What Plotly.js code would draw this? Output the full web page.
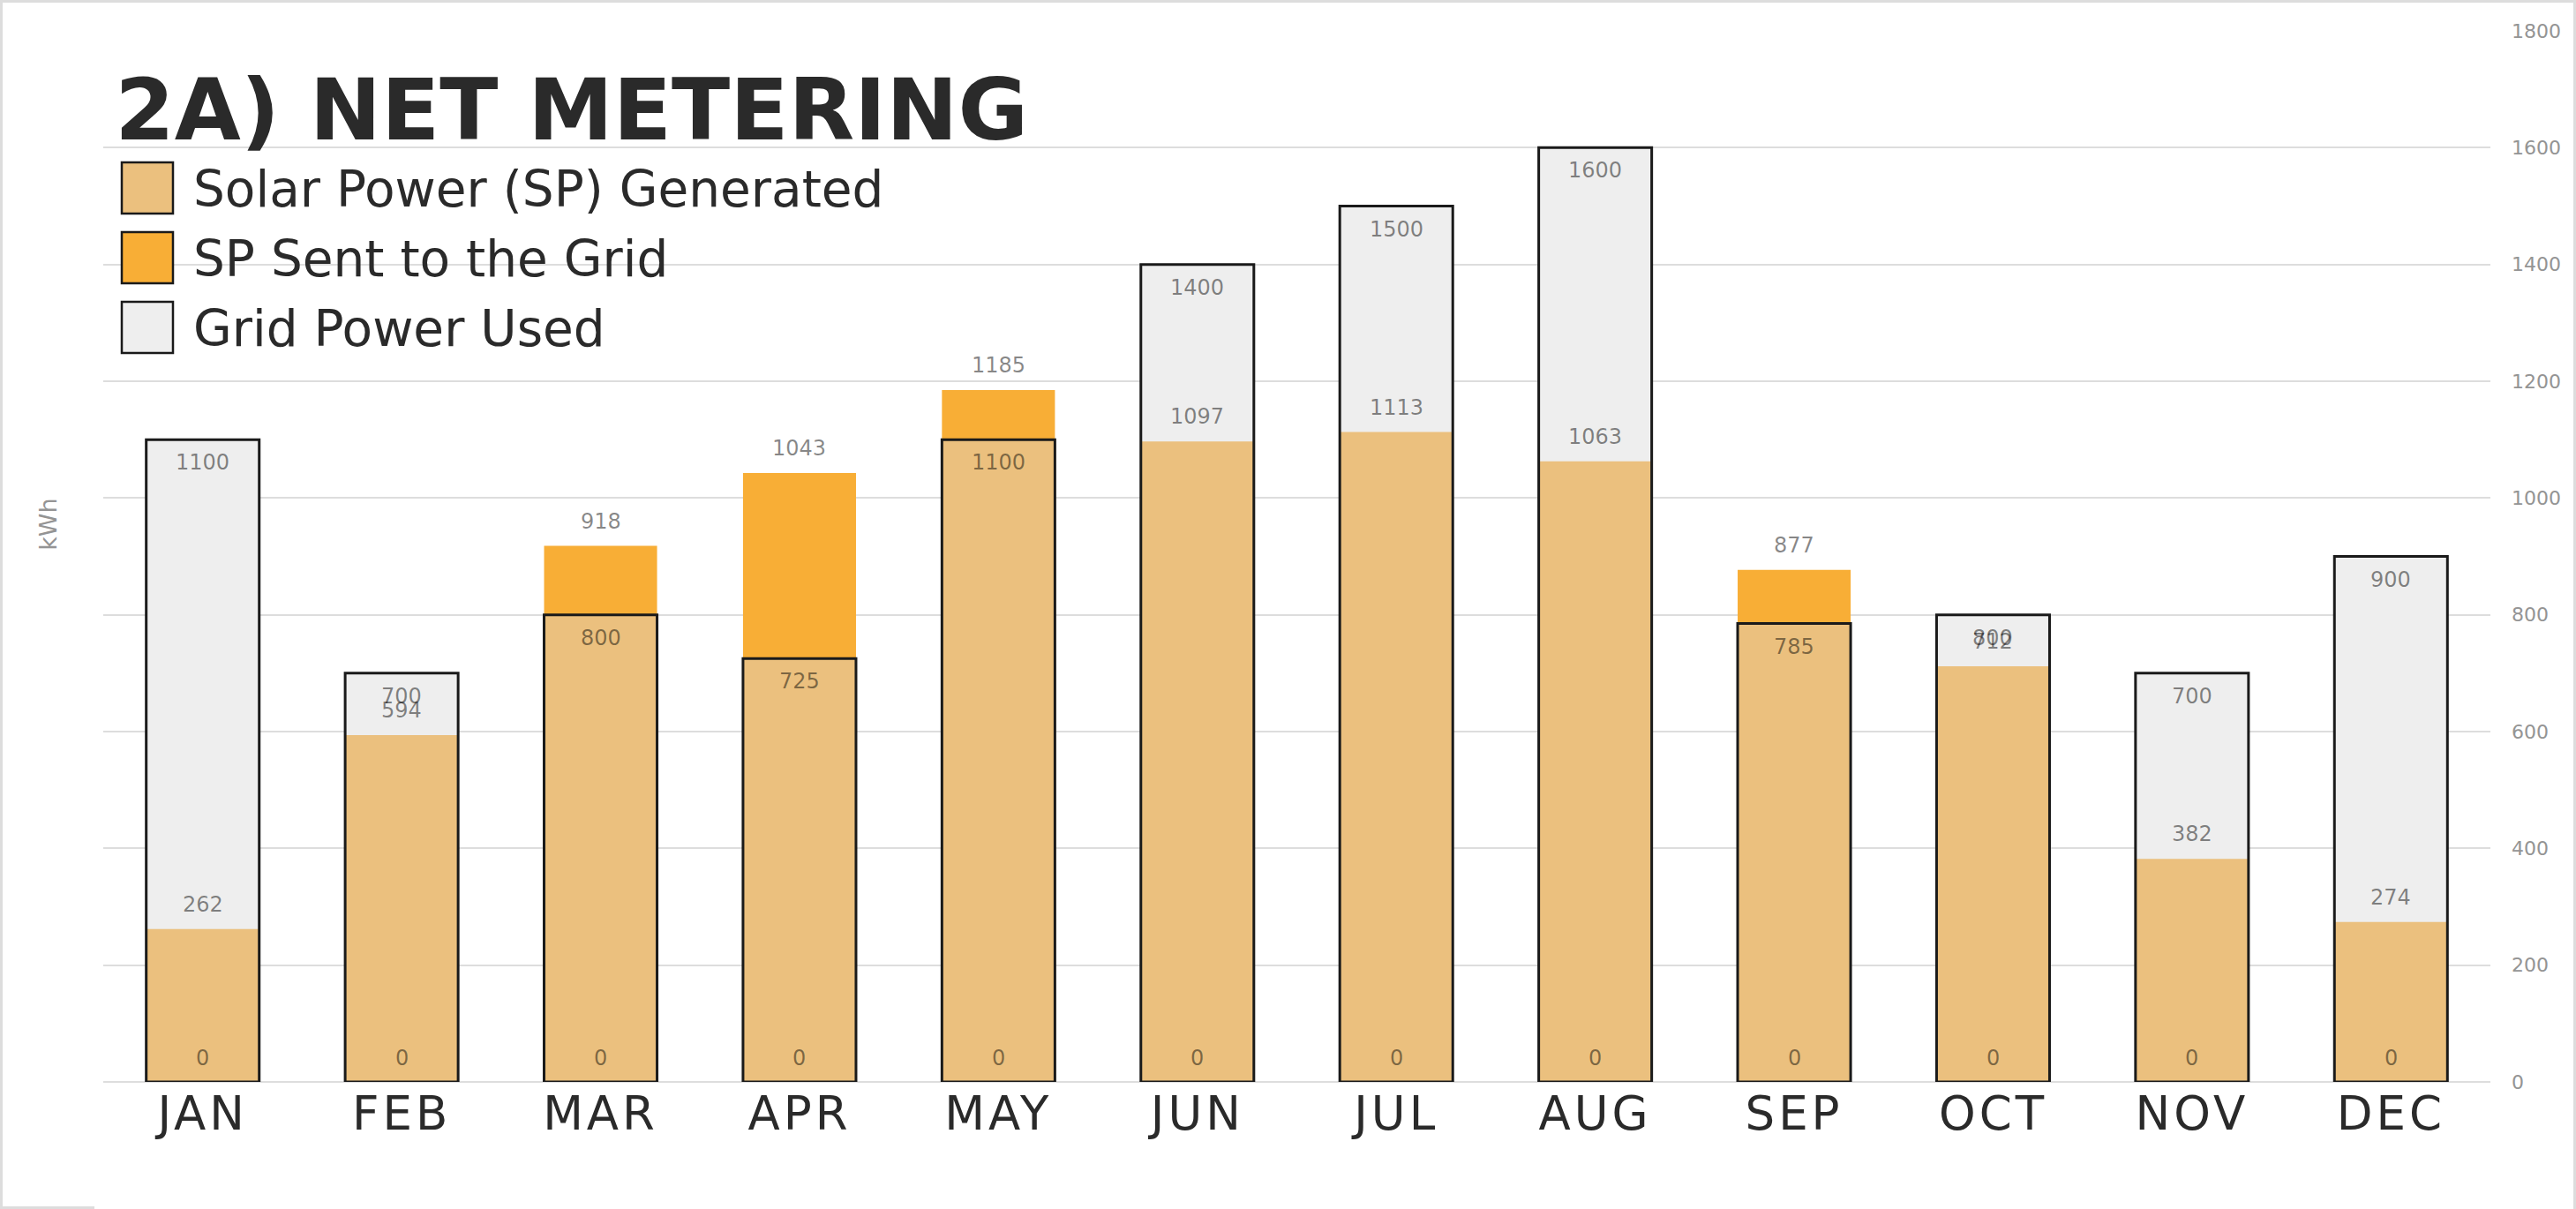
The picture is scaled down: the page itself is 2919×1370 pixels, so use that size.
<!DOCTYPE html>
<html>
<head>
<meta charset="utf-8">
<script src="https://cdn.plot.ly/plotly-3.0.1.min.js"></script>
<style>
  html, body { margin: 0; padding: 0; background: #ffffff; }
  #wrap { position: relative; width: 2919px; height: 1370px; }
  #chart { width: 2919px; height: 1370px; }
  /* month names are tracked out a little in the original */
  #chart .xtick text { letter-spacing: 4px; }
  /* faint frame round the picture, open along most of the bottom */
  #frame {
    position: absolute; left: 0; top: 0; width: 2913px; height: 1367px;
    border: 3px solid #dddddd; border-bottom: none; pointer-events: none;
  }
  #frame-foot {
    position: absolute; left: 0; bottom: 0; width: 107px; height: 3px;
    background: #dddddd; pointer-events: none;
  }
</style>
</head>
<body>
<div id="wrap">
  <div id="chart"></div>
  <div id="frame"></div>
  <div id="frame-foot"></div>
</div>
<script>
// Monthly energy values (kWh)
const months = ['JAN', 'FEB', 'MAR', 'APR', 'MAY', 'JUN', 'JUL', 'AUG', 'SEP', 'OCT', 'NOV', 'DEC'];
const gridUsed = [1100, 700, 800, 725, 1100, 1400, 1500, 1600, 785, 800, 700, 900];
const solarUsed = [262, 594, 800, 725, 1100, 1097, 1113, 1063, 785, 712, 382, 274];
// top of the "sent to the grid" block, only for months with surplus
const sentTop = [null, null, 918, 1043, 1185, null, null, null, 877, null, null, null];
// the baseline labels printed at the foot of every bar
const baseValues = [0, 0, 0, 0, 0, 0, 0, 0, 0, 0, 0, 0];
const yTicks = [0, 200, 400, 600, 800, 1000, 1200, 1400, 1600, 1800];

const seriesNames = ['Solar Power (SP) Generated', 'SP Sent to the Grid', 'Grid Power Used'];

const COLORS = {
  SOLAR: '#ebc07e',
  SENT: '#f8ae36',
  GRID: '#eeeeee',
  OUTLINE: '#1a1a1a',
  TEXT: '#2a2a2a',
  LABEL: 'rgba(0,0,0,0.47)',
  TICK: '#949494',
  GRIDLINE: '#dddddd'
};
const FONT = 'DejaVu Sans';

const traces = [];

// Grid power fill, behind the solar bars
traces.push({
  type: 'bar',
  x: months,
  y: gridUsed,
  name: seriesNames[2],
  marker: { color: COLORS.GRID, line: { width: 0 } },
  showlegend: false
});

// Solar power generated and used
traces.push({
  type: 'bar',
  x: months,
  y: solarUsed,
  name: seriesNames[0],
  marker: { color: COLORS.SOLAR, line: { width: 0 } },
  showlegend: false
});

// Surplus sent to the grid, sitting on top of the solar bar
traces.push({
  type: 'bar',
  x: months,
  y: sentTop.map((v, i) => (v === null ? null : v - solarUsed[i])),
  base: solarUsed,
  name: seriesNames[1],
  marker: { color: COLORS.SENT, line: { width: 0 } },
  showlegend: false
});

// Grid power outline, drawn over everything
traces.push({
  type: 'bar',
  x: months,
  y: gridUsed,
  name: seriesNames[2] + ' outline',
  marker: { color: 'rgba(0,0,0,0)', line: { color: COLORS.OUTLINE, width: 3 } },
  showlegend: false
});

// Value labels
const valueFont = { family: FONT, size: 24, color: COLORS.LABEL };
const label = (x, y, shift) => ({
  x: x, y: y, xref: 'x', yref: 'y',
  text: String(y), showarrow: false, yshift: shift, font: valueFont
});

const annotations = [];
gridUsed.forEach((v, i) => annotations.push(label(months[i], v, -26)));
solarUsed.forEach((v, i) => { if (sentTop[i] === null) annotations.push(label(months[i], v, 28)); });
sentTop.forEach((v, i) => { if (v !== null) annotations.push(label(months[i], v, 28)); });
baseValues.forEach((v, i) => annotations.push(label(months[i], v, 27)));

// Axis title on the left although the tick labels sit on the right
annotations.push({
  xref: 'paper', yref: 'paper', x: 0, y: 0.53, xshift: -62,
  xanchor: 'center', yanchor: 'middle',
  text: 'kWh', textangle: -90, showarrow: false,
  font: { family: FONT, size: 27, color: COLORS.TICK }
});

// Big legend at the top left
const swatchColors = [COLORS.SOLAR, COLORS.SENT, COLORS.GRID];
const shapes = [];
seriesNames.forEach((name, i) => {
  shapes.push({
    type: 'rect', xref: 'paper', yref: 'paper',
    xsizemode: 'pixel', ysizemode: 'pixel', xanchor: 0, yanchor: 1,
    x0: 21, x1: 79, y0: -(149 + 79 * i), y1: -(207 + 79 * i),
    fillcolor: swatchColors[i],
    line: { color: COLORS.OUTLINE, width: 2.5 }
  });
  annotations.push({
    xref: 'paper', yref: 'paper', x: 0, y: 1, xanchor: 'left', yanchor: 'middle',
    xshift: 100, yshift: -(179 + 79 * i),
    text: name, showarrow: false,
    font: { family: FONT, size: 56.5, color: COLORS.TEXT }
  });
});

const layout = {
  width: 2919,
  height: 1370,
  margin: { l: 117, r: 97, t: 35, b: 144 },
  paper_bgcolor: '#ffffff',
  plot_bgcolor: '#ffffff',
  barmode: 'overlay',
  bargap: 0.432,
  showlegend: false,
  hovermode: false,
  title: {
    text: '2A) NET METERING',
    xref: 'container', yref: 'container',
    x: 0.0446, y: 0.9095, xanchor: 'left', yanchor: 'middle',
    font: { family: FONT, size: 97, weight: 'bold', color: COLORS.TEXT }
  },
  xaxis: {
    type: 'category',
    categoryarray: months,
    range: [-0.5, 11.5],
    showgrid: false,
    showline: false,
    zeroline: false,
    ticks: '',
    ticklabelstandoff: 0,
    tickfont: { family: FONT, size: 53, color: COLORS.TEXT },
    automargin: false
  },
  yaxis: {
    side: 'right',
    range: [0, 1800],
    tickvals: yTicks,
    ticktext: yTicks.map(String),
    showgrid: true,
    gridcolor: COLORS.GRIDLINE,
    gridwidth: 2,
    zeroline: true,
    zerolinecolor: COLORS.GRIDLINE,
    zerolinewidth: 2,
    showline: false,
    ticks: '',
    ticklabelstandoff: 23,
    tickfont: { family: FONT, size: 22, color: COLORS.TICK },
    automargin: false
  },
  shapes: shapes,
  annotations: annotations
};

const config = { staticPlot: true, displayModeBar: false, responsive: false };

Plotly.newPlot('chart', traces, layout, config);
</script>
</body>
</html>
